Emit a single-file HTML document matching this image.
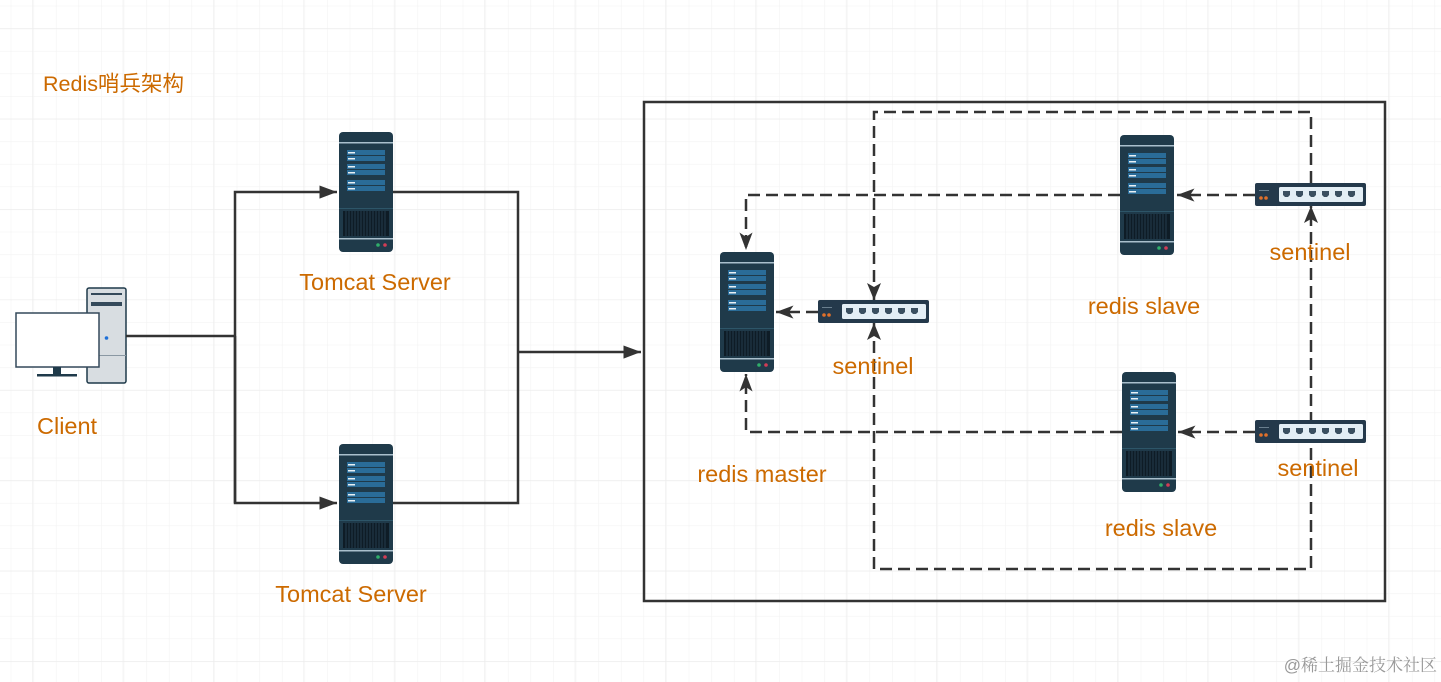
<!DOCTYPE html>
<html><head><meta charset="utf-8"><style>
html,body{margin:0;padding:0;background:#fff;}
svg{display:block;}
text{font-family:"Liberation Sans","Noto Sans CJK SC",sans-serif;fill:#cc6a00;font-size:23.5px;}
</style></head><body>
<svg width="1441" height="682" viewBox="0 0 1441 682" xmlns="http://www.w3.org/2000/svg">
<defs>
<pattern id="g" x="10.7" y="5.7" width="22.6" height="22.6" patternUnits="userSpaceOnUse">
<path d="M0 0V22.6M0 0H22.6" stroke="#f3f3f3" stroke-width="1.2" fill="none"/>
</pattern>
<pattern id="G" x="32.3" y="28.3" width="90.4" height="90.4" patternUnits="userSpaceOnUse">
<path d="M0 0V90.4M0 0H90.4" stroke="#ececec" stroke-width="1.2" fill="none"/>
</pattern>
<g id="srv">
<rect x="0" y="0" width="54" height="120" rx="4" fill="#1f3a4a"/>
<rect x="0" y="10" width="54" height="1.5" fill="#a9bfcc"/>
<g fill="#2a6c98">
<rect x="8" y="18" width="38" height="5"/><rect x="8" y="24" width="38" height="5"/>
<rect x="8" y="32" width="38" height="5"/><rect x="8" y="38" width="38" height="5"/>
<rect x="8" y="48" width="38" height="5"/><rect x="8" y="54" width="38" height="5"/>
</g>
<g fill="#e8f0f5">
<rect x="9" y="20" width="7" height="1.5"/><rect x="9" y="26" width="7" height="1.5"/>
<rect x="9" y="34" width="7" height="1.5"/><rect x="9" y="40" width="7" height="1.5"/>
<rect x="9" y="50" width="7" height="1.5"/><rect x="9" y="56" width="7" height="1.5"/>
</g>
<rect x="0" y="76" width="54" height="1" fill="#2d5568"/>
<rect x="4" y="79" width="46" height="25" fill="#0e1c26"/>
<g stroke="#2b4657" stroke-width="0.8">
<path d="M7 79V104M10 79V104M13 79V104M16 79V104M19 79V104M22 79V104M25 79V104M28 79V104M31 79V104M34 79V104M37 79V104M40 79V104M43 79V104M46 79V104"/>
</g>
<rect x="0" y="106" width="54" height="1.5" fill="#a9bfcc"/>
<circle cx="39" cy="113" r="1.8" fill="#2fae6a"/><circle cx="46" cy="113" r="1.8" fill="#d23c55"/>
</g>
<g id="sw">
<rect x="0" y="0" width="111" height="23" rx="2" fill="#24394b"/>
<rect x="4" y="7" width="10" height="1" fill="#6a7f8e"/>
<circle cx="6" cy="15" r="1.8" fill="#e0702a"/><circle cx="11" cy="15" r="1.8" fill="#e0702a"/>
<rect x="24" y="4" width="84" height="15" rx="1.5" fill="#e3eef5"/>
<g fill="#3a4f60">
<path d="M28 8h7v4l-2 2h-3l-2-2z"/><path d="M41 8h7v4l-2 2h-3l-2-2z"/><path d="M54 8h7v4l-2 2h-3l-2-2z"/>
<path d="M67 8h7v4l-2 2h-3l-2-2z"/><path d="M80 8h7v4l-2 2h-3l-2-2z"/><path d="M93 8h7v4l-2 2h-3l-2-2z"/>
</g>
</g>
<marker id="a" viewBox="0 0 16 12" refX="16" refY="6" markerWidth="7" markerHeight="5.5" orient="auto" markerUnits="strokeWidth">
<path d="M0 0L16 6L0 12z" fill="#333"/>
</marker>
<marker id="b" viewBox="0 0 16 12" refX="16" refY="6" markerWidth="7" markerHeight="5.5" orient="auto" markerUnits="strokeWidth">
<path d="M0 0L16 6L0 12L4 6z" fill="#333"/>
</marker>
</defs>
<rect width="1441" height="682" fill="url(#g)"/>
<rect width="1441" height="682" fill="url(#G)"/>

<text x="43" y="91" style="font-size:21.5px">Redis哨兵架构</text>

<!-- client -->
<rect x="87" y="288" width="39" height="95" rx="2" fill="#d8dde1" stroke="#1f3a4a" stroke-width="1.5"/>
<rect x="91" y="293" width="31" height="2" fill="#34495a"/>
<rect x="91" y="302" width="31" height="4" fill="#34495a"/>
<rect x="87" y="355" width="39" height="1" fill="#8a98a3"/>
<circle cx="106.5" cy="338" r="1.8" fill="#1e70d8"/>
<rect x="16" y="313" width="83" height="54" fill="#fff" stroke="#34495a" stroke-width="1.5"/>
<rect x="53" y="367" width="8" height="7" fill="#1f3a4a"/>
<rect x="37" y="374" width="40" height="2.5" fill="#1f3a4a"/>
<text x="37" y="434">Client</text>

<!-- solid connectors -->
<g stroke="#333" stroke-width="2.5" fill="none">
<path d="M126 336H235"/>
<path d="M235 503V192H337" marker-end="url(#a)"/>
<path d="M235 336V503H337" marker-end="url(#a)"/>
<path d="M393 192H518V503H393"/>
<path d="M518 352H641" marker-end="url(#a)"/>
</g>
<use href="#srv" x="339" y="132"/>
<text x="375" y="290" text-anchor="middle">Tomcat Server</text>
<use href="#srv" x="339" y="444"/>
<text x="351" y="602" text-anchor="middle">Tomcat Server</text>

<rect x="644" y="102" width="741" height="499" fill="none" stroke="#333" stroke-width="2.5"/>

<g stroke="#333" stroke-width="2.5" fill="none" stroke-dasharray="12,6">
<path d="M874 300V112H1311V183"/>
<path d="M874 323V569H1311V206"/>
<path d="M1120 195H746V250" marker-end="url(#b)"/>
<path d="M1122 432H746V374" marker-end="url(#b)"/>
<path d="M818 312H776" marker-end="url(#b)"/>
<path d="M1255 195H1177" marker-end="url(#b)"/>
<path d="M1255 432H1178" marker-end="url(#b)"/>
</g>
<g fill="#333">
<path d="M874 300l-7-17l7 4l7-4z"/>
<path d="M874 323l-7 17l7-4l7 4z"/>
<path d="M1311 206l-7 17l7-4l7 4z"/>
</g>

<use href="#srv" x="720" y="252"/>
<text x="762" y="482" text-anchor="middle">redis master</text>
<use href="#sw" x="818" y="300"/>
<text x="873" y="374" text-anchor="middle">sentinel</text>
<use href="#srv" x="1120" y="135"/>
<text x="1144" y="314" text-anchor="middle">redis slave</text>
<use href="#srv" x="1122" y="372"/>
<text x="1161" y="536" text-anchor="middle">redis slave</text>
<use href="#sw" x="1255" y="183"/>
<text x="1310" y="260" text-anchor="middle">sentinel</text>
<use href="#sw" x="1255" y="420"/>
<text x="1318" y="476" text-anchor="middle">sentinel</text>

<text x="1437" y="671" text-anchor="end" style="fill:#999;font-size:17px;font-family:'Liberation Sans','Noto Serif CJK SC',serif">@稀土掘金技术社区</text>
</svg>
</body></html>
